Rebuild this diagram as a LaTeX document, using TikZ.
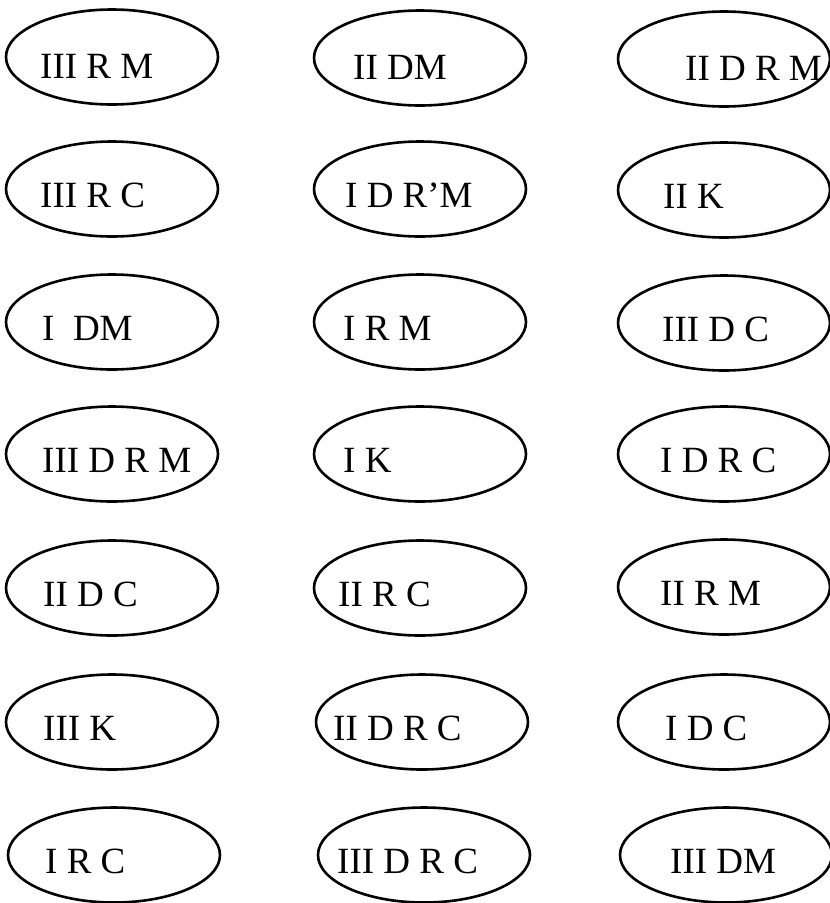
\documentclass[tikz,border=0pt]{standalone}
\usepackage{fontspec}
\setmainfont{Liberation Serif}
\usetikzlibrary{shapes.geometric}
\begin{document}
\begin{tikzpicture}[x=1pt,y=-1pt,
  oval/.style={draw, ellipse, line width=2.6pt, minimum width=212pt, minimum height=95pt, inner sep=0pt},
  lbl/.style={anchor=base west, inner sep=0pt, font=\fontsize{37}{37}\selectfont}]
\useasboundingbox (0,0) rectangle (830,903);
% row 1
\node[oval] (e11) at (112,57) {};
\node[oval] (e12) at (420,58) {};
\node[oval] (e13) at (724,59) {};
\node[lbl] (t11) at (40,78) {III R M};
\node[lbl] (t12) at (353,79) {II DM};
\node[lbl] (t13) at (685,80) {II D R M};
% row 2
\node[oval] (e21) at (112,189) {};
\node[oval] (e22) at (420,189) {};
\node[oval] (e23) at (724,190) {};
\node[lbl] (t21) at (40,207) {III R C};
\node[lbl] (t22) at (345,207) {I D R'M};
\node[lbl] (t23) at (663,208) {II K};
% row 3
\node[oval] (e31) at (112,322) {};
\node[oval] (e32) at (420,322) {};
\node[oval] (e33) at (724,323) {};
\node[lbl] (t31) at (42,340) {I\ \ DM};
\node[lbl] (t32) at (343,340) {I R M};
\node[lbl] (t33) at (662,341) {III D C};
% row 4
\node[oval] (e41) at (112,454) {};
\node[oval] (e42) at (420,454) {};
\node[oval] (e43) at (724,454) {};
\node[lbl] (t41) at (42,472) {III D R M};
\node[lbl] (t42) at (343,472) {I K};
\node[lbl] (t43) at (660,472) {I D R C};
% row 5
\node[oval] (e51) at (112,588) {};
\node[oval] (e52) at (420,588) {};
\node[oval] (e53) at (724,587) {};
\node[lbl] (t51) at (43,606) {II D C};
\node[lbl] (t52) at (338,606) {II R C};
\node[lbl] (t53) at (660,605) {II R M};
% row 6
\node[oval] (e61) at (112,722) {};
\node[oval] (e62) at (422,722) {};
\node[oval] (e63) at (724,722) {};
\node[lbl] (t61) at (43,740) {III K};
\node[lbl] (t62) at (333,740) {II D R C};
\node[lbl] (t63) at (665,740) {I D C};
% row 7
\node[oval] (e71) at (114,855) {};
\node[oval] (e72) at (424,855) {};
\node[oval] (e73) at (726,855) {};
\node[lbl] (t71) at (45,873) {I R C};
\node[lbl] (t72) at (337,873) {III D R C};
\node[lbl] (t73) at (670,873) {III DM};
\end{tikzpicture}
\end{document}
